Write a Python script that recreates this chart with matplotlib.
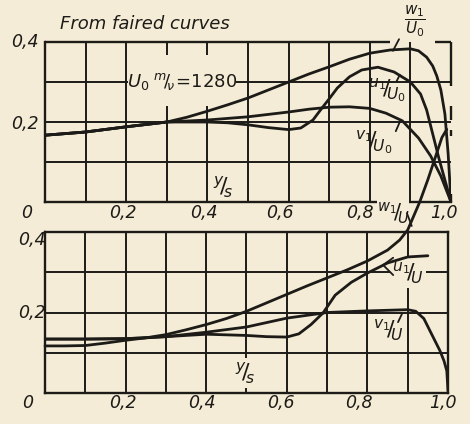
import numpy as np
import matplotlib
matplotlib.use("Agg")
import matplotlib.pyplot as plt
from matplotlib.transforms import blended_transform_factory, ScaledTranslation
from matplotlib.patches import Rectangle

plt.rcParams['font.family'] = ['DejaVu Sans']
plt.rcParams['mathtext.fontset'] = 'dejavusans'
plt.rcParams['mathtext.default'] = 'it'

PAPER = '#f4ecd6'
INK = '#1d1b18'

# ---------------- data ----------------
# top panel: U0 m/nu = 1280
w1_top_x = [0, 0.1, 0.2, 0.3, 0.35, 0.4, 0.45, 0.5, 0.55, 0.6, 0.65, 0.7, 0.75, 0.8,
            0.85, 0.9, 0.92, 0.94, 0.955, 0.965, 0.975, 0.985, 0.993, 1.0]
w1_top_y = [0.167, 0.175, 0.188, 0.2, 0.212, 0.227, 0.243, 0.26, 0.28, 0.3, 0.32, 0.338,
            0.357, 0.372, 0.38, 0.383, 0.378, 0.362, 0.34, 0.315, 0.28, 0.22, 0.12, 0.0]

v1_top_x = [0, 0.1, 0.2, 0.3, 0.4, 0.5, 0.6, 0.65, 0.7, 0.75, 0.8, 0.84, 0.88, 0.92,
            0.95, 0.975, 1.0]
v1_top_y = [0.167, 0.175, 0.188, 0.2, 0.205, 0.213, 0.225, 0.232, 0.237, 0.238, 0.234,
            0.222, 0.203, 0.16, 0.115, 0.065, 0.0]

u1_top_x = [0, 0.1, 0.2, 0.3, 0.4, 0.45, 0.5, 0.55, 0.6, 0.63, 0.66, 0.68, 0.7, 0.72,
            0.75, 0.78, 0.82, 0.86, 0.9, 0.925, 0.94, 0.955, 0.97, 0.985, 1.0]
u1_top_y = [0.167, 0.175, 0.188, 0.2, 0.2, 0.198, 0.193, 0.186, 0.181, 0.185, 0.205,
            0.232, 0.258, 0.285, 0.313, 0.33, 0.337, 0.325, 0.3, 0.27, 0.23, 0.17,
            0.11, 0.055, 0.0]

# bottom panel
w1_bot_x = [0, 0.05, 0.1, 0.15, 0.2, 0.25, 0.3, 0.35, 0.4, 0.45, 0.5, 0.55, 0.6, 0.65,
            0.7, 0.75, 0.8, 0.85, 0.88, 0.9, 0.93, 0.95, 0.97, 0.985, 0.997]
w1_bot_y = [0.117, 0.117, 0.118, 0.124, 0.131, 0.137, 0.145, 0.157, 0.17, 0.185, 0.203,
            0.224, 0.245, 0.266, 0.286, 0.306, 0.328, 0.355, 0.38, 0.405, 0.475, 0.53,
            0.59, 0.635, 0.655]

v1_bot_x = [0, 0.1, 0.2, 0.25, 0.3, 0.4, 0.5, 0.6, 0.7, 0.8, 0.9, 0.92, 0.94, 0.95,
            0.965, 0.98, 0.99, 0.997, 1.0]
v1_bot_y = [0.134, 0.134, 0.135, 0.137, 0.14, 0.151, 0.164, 0.186, 0.2, 0.204, 0.207,
            0.203, 0.185, 0.165, 0.135, 0.105, 0.08, 0.055, 0.005]

u1_bot_x = [0, 0.1, 0.2, 0.3, 0.4, 0.5, 0.55, 0.6, 0.63, 0.66, 0.69, 0.72, 0.76, 0.8,
            0.85, 0.9, 0.95]
u1_bot_y = [0.134, 0.134, 0.135, 0.14, 0.146, 0.143, 0.14, 0.139, 0.147, 0.17, 0.199,
            0.243, 0.275, 0.298, 0.323, 0.338, 0.341]

xtick_vals = [0, 0.2, 0.4, 0.6, 0.8, 1.0]
xtick_labels = ['0', '0,2', '0,4', '0,6', '0,8', '1,0']
ytick_vals = [0.2, 0.4]
ytick_labels = ['0,2', '0,4']

# ---------------- figure ----------------
fig = plt.figure(figsize=(4.7, 4.24), dpi=100)
fig.patch.set_facecolor(PAPER)
W, H = 470, 424
ax1 = fig.add_axes([45 / W, (H - 202) / H, 406 / W, 160 / H])
ax2 = fig.add_axes([45 / W, (H - 393) / H, 403 / W, 161 / H])

TXT = dict(color=INK, fontstyle='italic', fontsize=12.5)

for ax in (ax1, ax2):
    ax.set_facecolor(PAPER)
    ax.set_xlim(0, 1)
    ax.set_ylim(0, 0.4)
    ax.set_xticks(np.arange(1, 10) / 10)
    ax.set_yticks([0.1, 0.2, 0.3])
    ax.tick_params(length=0, labelbottom=False, labelleft=False)
    ax.grid(True, color=INK, lw=1.4, zorder=1)
    ax.set_axisbelow(True)
    for s in ax.spines.values():
        s.set_color(INK)
        s.set_linewidth(1.7)

# top panel frame peculiarities: gap in top border and broken right border
ax1.spines['top'].set_visible(False)
ax1.spines['right'].set_visible(False)
fk = dict(color=INK, lw=1.7, solid_capstyle='butt', clip_on=False, zorder=2.5)
ax1.plot([0, 0.85], [0.4, 0.4], **fk)
ax1.plot([0.96, 1.0], [0.4, 0.4], **fk)
ax1.plot([1.0, 1.0], [0.4, 0.29], **fk)
ax1.plot([1.0, 1.0], [0.24, 0.205], **fk)
ax1.plot([1.0, 1.0], [0.18, 0.165], **fk)
ax1.plot([1.0, 1.0], [0.02, 0.0], **fk)

# mask behind the parameter text in the top panel
ax1.add_patch(Rectangle((0.205, 0.24), 0.265, 0.1275, facecolor=PAPER,
                        edgecolor='none', zorder=1.5))

CK = dict(color=INK, lw=2.0, solid_joinstyle='round', solid_capstyle='round', zorder=3)
ax1.plot(w1_top_x, w1_top_y, **CK)
ax1.plot(v1_top_x, v1_top_y, **CK)
ax1.plot(u1_top_x, u1_top_y, **CK)

ax2.plot(v1_bot_x, v1_bot_y, **CK)
ax2.plot(u1_bot_x, u1_bot_y, **CK)
ax2.plot(w1_bot_x, w1_bot_y, clip_on=False, **CK)

# ---------------- tick labels ----------------
def px(dx, dy):
    return ScaledTranslation(dx / 100, dy / 100, fig.dpi_scale_trans)

top_dx = [-18, -3, -4, -9, -10, -7]
bot_dx = [-17, -3, -4, -6, -9, -5]
for ax, dxs, dy in ((ax1, top_dx, -11), (ax2, bot_dx, -10)):
    tr = blended_transform_factory(ax.transData, ax.transAxes)
    for v, lab, dx in zip(xtick_vals, xtick_labels, dxs):
        ax.text(v, 0, lab, transform=tr + px(dx, dy), ha='center', va='center', **TXT)

for ax, dx, dys in ((ax1, -20, [-2, 0]), (ax2, -13, [-1, -8])):
    tr = blended_transform_factory(ax.transAxes, ax.transData)
    for v, lab, dy in zip(ytick_vals, ytick_labels, dys):
        ax.text(0, v, lab, transform=tr + px(dx, dy), ha='center', va='center', **TXT)

# ---------------- annotations ----------------
ax1.text(0.037, 0.446, 'From faired curves', ha='left', va='center',
         color=INK, fontstyle='italic', fontsize=13, clip_on=False)
ax1.text(0.338, 0.30, r'$U_0\;{}^{m}\!/\!{}_{\nu}\!=\!1280$', ha='center', va='center',
         color=INK, fontsize=13, zorder=2)
ax1.text(0.912, 0.452, r'$\dfrac{w_1}{U_0}$', ha='center', va='center', color=INK,
         fontsize=11, clip_on=False)
ax1.text(0.842, 0.278, r'${}^{u_1}\!/\!{}_{U_0}$', ha='center', va='center',
         color=INK, fontsize=16, zorder=2.6)
ax1.text(0.81, 0.148, r'${}^{v_1}\!/\!{}_{U_0}$', ha='center', va='center',
         color=INK, fontsize=16, zorder=2.6)
ax1.text(0.438, 0.037, r'${}^{y}\!/\!{}_{s}$', ha='center', va='center',
         color=INK, fontsize=16, zorder=2.6)
ax1.text(0.857, -0.028, r'${}^{w_1}\!/\!{}_{U}$', ha='center', va='center',
         color=INK, fontsize=15, zorder=5, clip_on=False,
         bbox=dict(boxstyle='square,pad=0.0', facecolor=PAPER, edgecolor='none'))

ax2.text(0.9, 0.297, r'${}^{u_1}\!/\!{}_{U}$', ha='center', va='center',
         color=INK, fontsize=16, zorder=2.6,
         bbox=dict(boxstyle='square,pad=0.1', facecolor=PAPER, edgecolor='none'))
ax2.text(0.852, 0.155, r'${}^{v_1}\!/\!{}_{U}$', ha='center', va='center',
         color=INK, fontsize=16, zorder=2.6)
ax2.text(0.497, 0.05, r'${}^{y}\!/\!{}_{s}$', ha='center', va='center',
         color=INK, fontsize=16, zorder=2.6,
         bbox=dict(boxstyle='square,pad=0.1', facecolor=PAPER, edgecolor='none'))

LK = dict(arrowstyle='-', color=INK, lw=1.3, shrinkA=0, shrinkB=0)
ax1.annotate('', xy=(0.857, 0.378), xytext=(0.872, 0.407), arrowprops=LK,
             annotation_clip=False)
ax1.annotate('', xy=(0.866, 0.302), xytext=(0.874, 0.318), arrowprops=LK)
ax1.annotate('', xy=(0.864, 0.177), xytext=(0.873, 0.198), arrowprops=LK)
ax2.annotate('', xy=(0.876, 0.176), xytext=(0.886, 0.197), arrowprops=LK)
ax2.annotate('', xy=(0.839, 0.318), xytext=(0.864, 0.336), arrowprops=LK)
ax2.annotate('', xy=(0.839, 0.318), xytext=(0.864, 0.293), arrowprops=LK)
ax2.annotate('', xy=(0.898, 0.447), xytext=(0.91, 0.415), arrowprops=LK,
             annotation_clip=False)

fig.savefig('out.png', dpi=100, facecolor=PAPER)
